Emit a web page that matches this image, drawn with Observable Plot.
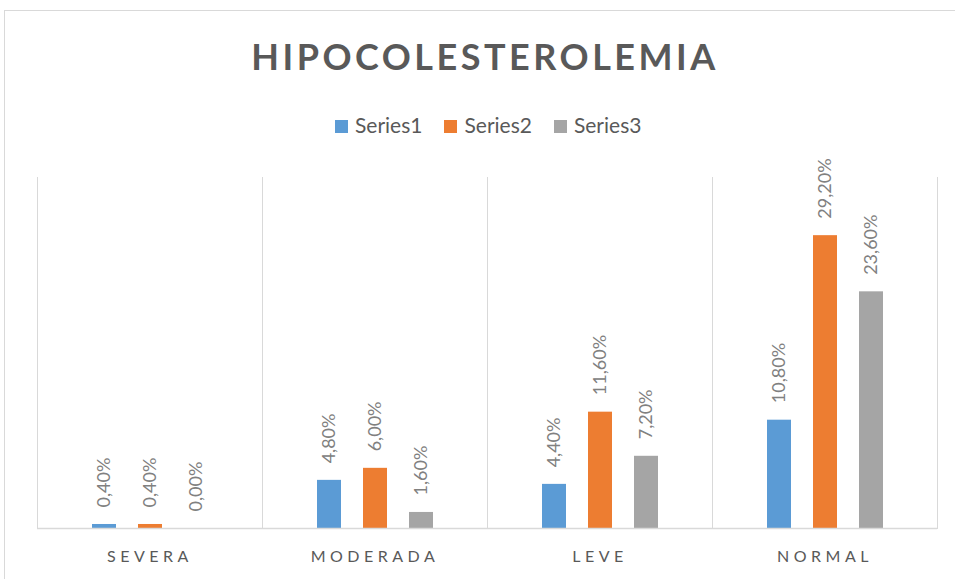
<!DOCTYPE html>
<html>
<head>
<meta charset="utf-8">
<script src="https://cdn.jsdelivr.net/npm/d3@7"></script>
<script src="https://cdn.jsdelivr.net/npm/@observablehq/plot@0.6"></script>
<style>
  html, body { margin: 0; padding: 0; background: #fff; }
  #wrap { position: relative; width: 955px; height: 579px; overflow: hidden; font-family: Lato, "Open Sans", sans-serif; }
  #frame { position: absolute; left: 4px; top: 10px; width: 1000px; height: 700px; border-top: 1px solid #d9d9d9; border-left: 1px solid #d9d9d9; }
  #title { position: absolute; left: 0; width: 970px; top: 36px; text-align: center; font-weight: 700; font-size: 36px; line-height: 40px; letter-spacing: 3.5px; color: #595959; }
  #legend { position: absolute; left: 335px; top: 112px; white-space: nowrap; font-size: 21px; line-height: 26px; color: #595959; }
  #legend .item { display: inline-block; margin-right: 22px; }
  #legend .sw { display: inline-block; width: 13px; height: 13px; margin-right: 7px; vertical-align: 0px; }
  #chart { position: absolute; left: 0; top: 150px; }
  #chart [aria-label="fx-axis tick label"] text { letter-spacing: 4.5px; }
</style>
</head>
<body>
<div id="wrap">
  <div id="frame"></div>
  <div id="title">HIPOCOLESTEROLEMIA</div>
  <div id="legend"></div>
  <div id="chart"></div>
</div>
<script>
const categories = ["SEVERA", "MODERADA", "LEVE", "NORMAL"];
const seriesNames = ["Series1", "Series2", "Series3"];
const series1 = [0.4, 4.8, 4.4, 10.8];
const series2 = [0.4, 6.0, 11.6, 29.2];
const series3 = [0.0, 1.6, 7.2, 23.6];
const colors = ["#5B9BD5", "#ED7D31", "#A5A5A5"];

const allSeries = [series1, series2, series3];
const data = [];
categories.forEach((c, i) => {
  seriesNames.forEach((s, j) => {
    data.push({cat: c, series: s, value: allSeries[j][i]});
  });
});
const fmt = v => v.toFixed(2).replace(".", ",") + "%";

// legend
const legend = document.getElementById("legend");
seriesNames.forEach((s, j) => {
  const item = document.createElement("span");
  item.className = "item";
  item.innerHTML = `<span class="sw" style="background:${colors[j]}"></span>${s}`;
  legend.appendChild(item);
});

const chart = Plot.plot({
  width: 955,
  height: 429,
  marginTop: 27,
  marginBottom: 51,
  marginLeft: 37,
  marginRight: 18,
  style: {fontFamily: "Lato, 'Open Sans', sans-serif", color: "#595959", background: "transparent"},
  fx: {domain: categories, padding: 0, label: null},
  x: {domain: seriesNames, paddingInner: 0.48, paddingOuter: 1.16, axis: null},
  y: {domain: [0, 35], axis: null},
  color: {domain: seriesNames, range: colors},
  marks: [
    Plot.frame({anchor: "left", stroke: "#d9d9d9", strokeOpacity: 1}),
    Plot.frame({anchor: "right", stroke: "#d9d9d9", strokeOpacity: 1}),
    Plot.barY(data, {fx: "cat", x: "series", y: "value", fill: "series"}),
    Plot.ruleY([0], {stroke: "#d9d9d9", strokeWidth: 1.5}),
    Plot.text(data, {fx: "cat", x: "series", y: "value", text: d => fmt(d.value), rotate: -90, textAnchor: "start", dy: -17, fill: "#808080", fontSize: 18}),
    Plot.axisFx({anchor: "bottom", tickSize: 0, tickPadding: 22, fontSize: 16, fill: "#595959", label: null})
  ]
});
document.getElementById("chart").appendChild(chart);
</script>
</body>
</html>
